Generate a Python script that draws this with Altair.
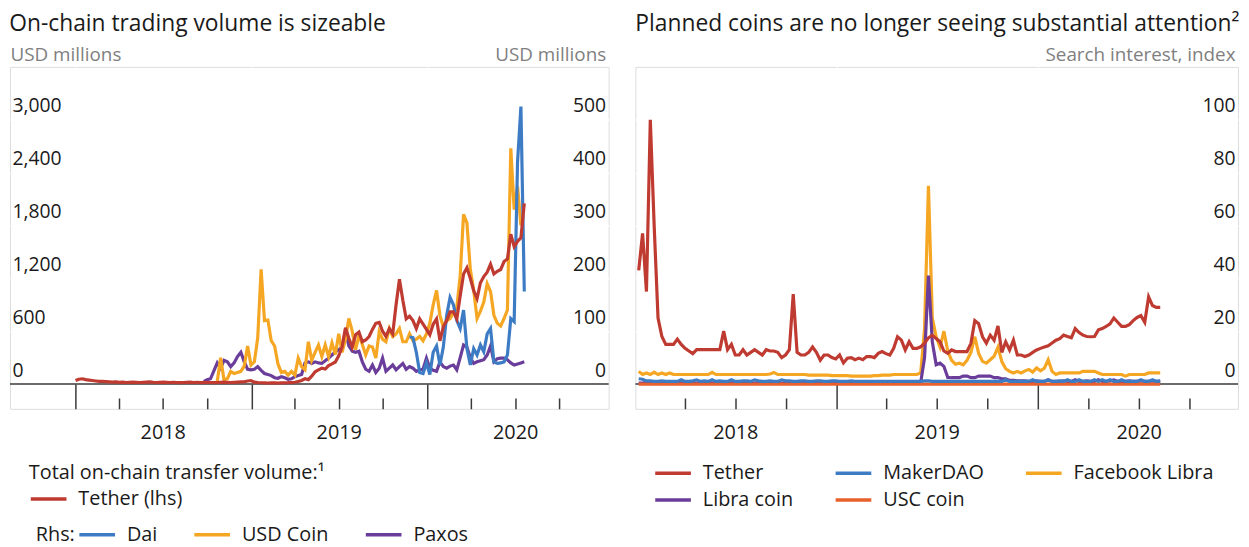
import altair as alt
import pandas as pd

FONT = "Open Sans"
TXT = "#1a1a1a"
GREY_TXT = "#808080"
BG = "#e0e0e0"
RED = "#bf3a30"
BLUE = "#3d7cc4"
ORANGE = "#f5a623"
PURPLE = "#6a3d9a"
ORANGE_RED = "#e8612c"

# ---------------- left panel: on-chain transfer volume (weekly, USD mn) ----------------
tether_volume_start = "2018-01-01"
tether_volume = [
    40, 55, 60, 50, 45, 40, 35, 30, 30,
    28, 25, 22, 24, 20, 22, 18, 20, 22, 20,
    18, 20, 22, 24, 20, 18, 20, 22, 20, 18,
    20, 18, 16, 18, 20, 22, 18, 20, 16, 18,
    20, 18, 16, 18, 20, 22, 20, 18, 20, 22,
    24, 26,
    35, 40, 22, 18, 15, 14, 12, 14, 15, 12, 14, 15, 16, 18,
    20, 30, 40, 60, 50, 90, 140, 160, 180, 170,
    210, 230, 250, 320, 420, 640, 520, 420, 560, 590,
    480, 500, 540, 620, 690, 700, 600, 540, 630, 570,
    900, 1190, 950, 740, 770, 720, 630, 740, 680, 620,
    560, 680, 740, 490, 650, 720, 820, 820, 740, 1000,
    1250, 1320, 1200, 1060, 970, 1150, 1220, 1270, 1360, 1250,
    1280, 1300, 1390, 1420, 1700, 1560, 1620, 1660, 2050,
]

paxos_start = "2018-09-24"
paxos = [
    5, 8, 10, 25, 40, 30, 45, 42, 33, 40,
    52, 60, 42, 28, 27, 28, 33, 26, 20, 18,
    16, 12, 11, 14, 12, 9, 10, 14, 16, 18,
    40, 42, 39, 42, 40, 39, 44, 49, 55, 61,
    65, 70, 100, 72, 62, 60, 62, 42, 28, 24,
    36, 22, 30, 49, 24, 30, 36, 27, 33, 39,
    28, 33, 30, 24, 27, 28, 49, 30, 26, 24,
    42, 33, 30, 34, 36, 27, 50, 74, 70, 50,
    39, 42, 44, 46, 55, 72, 42, 48, 49, 49,
    46, 40, 36, 38, 40, 42,
]

usd_coin_start = "2018-10-22"
usd_coin = [
    5, 50, 8, 10, 24, 20, 22, 24, 34, 72,
    36, 42, 88, 217, 120, 121, 82, 72, 38, 22,
    24, 17, 24, 17, 49, 33, 27, 80, 45, 60,
    74, 52, 74, 52, 78, 56, 95, 60, 85, 124,
    100, 65, 92, 75, 55, 72, 70, 49, 99, 85,
    80, 105, 90, 95, 105, 80, 80, 95, 82, 85,
    90, 82, 95, 115, 150, 177, 130, 108, 120, 124,
    135, 145, 205, 321, 305, 217, 178, 124, 138, 155,
    190, 175, 130, 115, 110, 124, 140, 446, 330, 374,
    300,
]

dai_start = "2019-11-25"
dai = [
    89, 88, 60, 22, 20, 40, 18, 60, 72, 36,
    70, 130, 164, 150, 120, 105, 140, 67, 36, 67,
    55, 74, 61, 95, 105, 42, 39, 40, 42, 55,
    124, 118, 420, 525, 175,
]

# ---------------- right panel: search interest (weekly, index) ----------------
search_start = "2018-01-07"
search_tether = [
    43, 57, 35, 100, 60, 25, 18, 15, 15, 15,
    17, 15, 13.5, 12.5, 11.5, 13, 13, 13, 13, 13,
    13, 13, 20, 13, 15, 11, 11, 13, 11, 12,
    13, 12, 11, 13, 12.5, 12.5, 12, 10, 11, 13,
    34, 12, 11, 11, 12, 14, 12, 9, 11, 11,
    10, 9.5, 11, 8, 9.8, 10, 9.2, 9.8, 9.2, 10.4,
    10.4, 10, 11.6, 12.3, 11.5, 11, 13.5, 17.9, 16.6, 12.9,
    16, 13.5, 13.5, 14.1, 15.5, 17.5, 18.5, 17.2, 16, 12.5,
    11.6, 12.9, 12.3, 12.3, 12.3, 12.3, 15.4, 24, 22.8, 17.9,
    15.5, 18.5, 16.6, 22, 12, 16, 12.9, 16.6, 11, 11,
    10.4, 11, 12, 12.9, 13.5, 14, 14.5, 15.5, 16.6, 17.2,
    18.5, 18, 17.5, 21, 19.5, 18.5, 18, 17.9, 18, 20.5,
    21, 21.8, 22.8, 25, 23.4, 21.8, 21.8, 22.5, 24, 25.2,
    25.9, 23.4, 33, 29.7, 29, 29,
]
search_makerdao = [
    2.0, 1.8, 1.2, 1.2, 1.0, 1.0, 1.2, 1.0, 1.0, 1.0,
    1.0, 1.6, 1.0, 1.0, 1.2, 1.6, 1.0, 1.2, 1.0, 1.6,
    1.0, 1.2, 1.0, 1.0, 1.6, 1.0, 1.0, 1.2, 1.2, 1.0,
    1.6, 1.2, 1.0, 1.0, 1.2, 1.0, 1.0, 1.6, 1.2, 1.2,
    1.0, 1.0, 1.2, 1.2, 1.0, 1.0, 1.2, 1.2, 1.0, 1.0,
    1.2, 1.2, 1.0, 1.0, 1.0, 1.2, 1.0, 1.0, 1.0, 1.0,
    1.0, 1.0, 1.0, 1.0, 1.0, 1.0, 1.0, 1.0, 1.0, 1.0,
    1.0, 1.0, 1.0, 1.0, 1.2, 1.2, 1.0, 1.0, 1.0, 1.0,
    1.0, 1.0, 1.0, 1.0, 1.0, 1.0, 1.0, 1.0, 1.0, 1.0,
    1.0, 1.0, 1.0, 1.0, 1.0, 1.6, 1.0, 1.0, 1.0, 1.0,
    1.0, 1.0, 1.6, 1.0, 1.0, 1.0, 1.6, 1.0, 1.0, 1.2,
    1.0, 1.6, 1.0, 1.0, 1.6, 1.0, 1.0, 1.0, 1.6, 1.0,
    1.6, 1.0, 1.6, 1.0, 1.0, 1.6, 1.0, 1.0, 1.0, 1.0,
    1.6, 1.0, 1.0, 1.6, 1.0, 1.2,
]
search_facebook_libra = [
    4.8, 3.6, 4.2, 3.6, 4.5, 3.6, 4.2, 3.6, 4.2, 3.6,
    3.6, 3.6, 3.6, 3.6, 3.6, 3.6, 3.6, 3.6, 3.6, 4.4,
    3.6, 3.6, 3.6, 3.6, 3.6, 3.6, 3.6, 3.6, 3.6, 3.6,
    3.6, 3.6, 3.6, 3.6, 3.8, 4.4, 3.6, 3.6, 3.6, 3.6,
    3.6, 3.6, 3.6, 3.6, 3.4, 3.4, 3.4, 3.4, 3.4, 3.4,
    3.2, 3.2, 3.2, 3.2, 3.2, 3.0, 3.0, 3.0, 3.0, 3.0,
    3.0, 3.2, 3.2, 3.4, 3.4, 3.4, 3.6, 3.6, 3.6, 3.6,
    3.6, 3.6, 3.6, 4.2, 21, 75, 25, 17.9, 14, 20,
    12.5, 9, 7.5, 7.9, 7.3, 9, 12, 17.9, 11.6, 8.6,
    7.9, 9.2, 10.5, 14, 8.5, 5.8, 4.8, 4.2, 4.8, 4.2,
    5.0, 5.5, 4.5, 6.1, 5.0, 6.0, 9.2, 4.8, 3.6, 4.2,
    4.2, 4.2, 4.2, 4.2, 4.2, 4.8, 4.8, 4.8, 4.8, 4.2,
    3.6, 3.6, 3.6, 3.6, 3.6, 3.6, 3.0, 3.6, 3.6, 3.6,
    3.6, 3.6, 4.2, 4.2, 4.2, 4.2,
]
search_libra_coin = [
    0.4, 0.4, 0.6, 0.4, 0.4, 0.4, 0.4, 0.4, 0.4, 0.4,
    0.4, 0.6, 0.4, 0.4, 0.4, 0.4, 0.4, 0.4, 0.6, 0.4,
    0.4, 0.4, 0.4, 0.4, 0.4, 0.6, 0.4, 0.4, 0.4, 0.4,
    0.4, 0.4, 0.4, 0.6, 0.4, 0.4, 0.4, 0.4, 0.4, 0.4,
    0.4, 0.4, 0.4, 0.4, 0.4, 0.4, 0.6, 0.4, 0.4, 0.4,
    0.4, 0.4, 0.4, 0.4, 0.4, 0.4, 0.4, 0.4, 0.4, 0.4,
    0.4, 0.4, 0.4, 0.4, 0.4, 0.4, 0.4, 0.4, 0.4, 0.4,
    0.4, 0.4, 0.4, 0.6, 10, 41, 16, 7.3, 7.9, 6.7,
    2.5, 2.4, 2.4, 2.4, 3.0, 3.0, 2.4, 2.4, 3.0, 3.0,
    3.0, 3.0, 2.4, 2.4, 2.0, 2.0, 1.4, 1.4, 1.2, 1.2,
    1.2, 1.0, 1.0, 1.2, 1.0, 1.0, 1.6, 1.0, 1.0, 1.0,
    1.2, 1.0, 1.0, 1.6, 1.0, 1.0, 1.2, 1.0, 1.0, 1.6,
    1.0, 1.0, 1.2, 1.6, 1.0, 1.0, 1.0, 1.2, 1.0, 1.0,
    1.2, 1.0, 1.0, 1.2, 1.0, 1.0,
]
search_usc_coin = [
    0, 0, 0, 0, 0, 0, 0, 0, 0, 0,
    0, 0, 0, 0, 0, 0, 0, 0, 0, 0,
    0, 0, 0, 0, 0, 0, 0, 0, 0, 0,
    0, 0, 0, 0, 0, 0, 0, 0, 0, 0,
    0, 0, 0, 0, 0, 0, 0, 0, 0, 0,
    0, 0, 0, 0, 0, 0, 0, 0, 0, 0,
    0, 0, 0, 0, 0, 0, 0, 0, 0, 0,
    0, 0, 0, 0, 0, 0, 0, 0, 0, 0,
    0, 0, 0, 0, 0, 0, 0, 0, 0, 0,
    0, 0, 0, 0, 0, 0, 0, 0, 0, 0,
    0, 0, 0, 0, 0, 0, 0, 0, 0, 0,
    0, 0, 0, 0, 0, 0, 0, 0, 0, 0,
    0, 0, 0, 0, 0, 0, 0, 0, 0, 0,
    0, 0, 0, 0, 0, 0,
]

left_y_ticks = [0, 600, 1200, 1800, 2400, 3000]
left_rhs_ticks = [0, 100, 200, 300, 400, 500]
right_y_ticks = [0, 20, 40, 60, 80, 100]
tick_years = [2018, 2019, 2020]
tick_months = [1, 4, 7, 10]


def weekly(start, values, name):
    return pd.DataFrame({
        "date": pd.date_range(start, periods=len(values), freq="7D"),
        "value": values,
        "series": name,
    })


tether_df = weekly(tether_volume_start, tether_volume, "Tether (lhs)")
rhs_df = pd.concat([
    weekly(paxos_start, paxos, "Paxos"),
    weekly(usd_coin_start, usd_coin, "USD Coin"),
    weekly(dai_start, dai, "Dai"),
], ignore_index=True)
search_df = pd.concat([
    weekly(search_start, search_facebook_libra, "Facebook Libra"),
    weekly(search_start, search_libra_coin, "Libra coin"),
    weekly(search_start, search_usc_coin, "USC coin"),
    weekly(search_start, search_makerdao, "MakerDAO"),
    weekly(search_start, search_tether, "Tether"),
], ignore_index=True)
zero_df = pd.DataFrame({"v": [0]})

# ---------------- layout constants ----------------
W_L, W_R, H = 604, 608, 345
LEFT_DOM = [-281.25, 3600]
LEFT_RHS_DOM = [-46.875, 600]
RIGHT_DOM = [-9.375, 120]
LX_DOM = [alt.DateTime(year=2017, month=8, date=18), alt.DateTime(year=2021, month=1, date=11)]
RX_DOM = [alt.DateTime(year=2018, month=1, date=1), alt.DateTime(year=2020, month=12, date=28)]
quarters_left = [alt.DateTime(year=y, month=m, date=1) for y in tick_years for m in tick_months]
quarters_right = quarters_left[1:]
MAJOR = "month(datum.value) == 0"
LW = 3.2


def x_axis(values):
    return alt.Axis(
        values=values, orient="bottom", offset=-25, tickSize=25, tickWidth=1.5,
        tickColor="#3a3a3a",
        tickDash={"condition": {"test": MAJOR, "value": []}, "value": [0, 14, 11]},
        domain=False, grid=True, gridColor="white", gridWidth=2,
        gridOpacity={"condition": {"test": MAJOR, "value": 1}, "value": 0},
        labelExpr="month(datum.value) == 6 ? timeFormat(datum.value, '%Y') : ''",
        labelPadding=14, labelFontSize=20, labelColor=TXT, labelFont=FONT,
        labelOverlap=False, labelFlush=False, title=None,
    )


def y_axis(orient, values, title, grid, fmt):
    left = orient == "left"
    return alt.Axis(
        orient=orient, values=values, format=fmt, ticks=False, domain=False,
        grid=grid, gridColor="white", gridWidth=2,
        gridOpacity={"condition": {"test": "datum.value == 0", "value": 0}, "value": 1},
        labelAlign="left" if left else "right", labelBaseline="bottom",
        labelPadding=-2 if left else -3, labelOffset=-4,
        labelFontSize=19.5, labelColor=TXT, labelFont=FONT,
        title=title, titleAngle=0, titleAlign="left" if left else "right",
        titleBaseline="bottom", titleX=0 if left else -3, titleY=-2,
        titleFontSize=19, titleFont=FONT, titleFontWeight="normal", titleColor=GREY_TXT,
    )


leg_common = dict(
    orient="none", symbolType="stroke", symbolSize=1296, symbolStrokeWidth=3.5,
    clipHeight=20, labelFontSize=20, labelFont=FONT, labelColor=TXT, labelOffset=10,
    titleFontSize=20, titleFont=FONT, titleFontWeight="normal", titleColor=TXT,
    padding=0, labelLimit=400, titleLimit=500,
)

# ---------------- left panel ----------------
left_zero = alt.Chart(zero_df).mark_rule(color="#3a3a3a", strokeWidth=1.5).encode(
    y=alt.Y("v:Q", scale=alt.Scale(domain=LEFT_DOM, nice=False), axis=None)
)
left_rhs = alt.Chart(rhs_df).mark_line(strokeWidth=LW).encode(
    x=alt.X("date:T", scale=alt.Scale(domain=LX_DOM, nice=False), axis=x_axis(quarters_left)),
    y=alt.Y("value:Q", scale=alt.Scale(domain=LEFT_RHS_DOM, nice=False),
            axis=y_axis("right", left_rhs_ticks, "USD millions", False, "d")),
    color=alt.Color("series:N",
                    scale=alt.Scale(domain=["Dai", "USD Coin", "Paxos"], range=[BLUE, ORANGE, PURPLE]),
                    legend=alt.Legend(title="Rhs:", titleOrient="left", direction="horizontal",
                                      columns=3, columnPadding=35, legendX=26, legendY=462,
                                      titlePadding=2, **leg_common)),
)
left_tether = alt.Chart(tether_df).mark_line(strokeWidth=LW).encode(
    x=alt.X("date:T", scale=alt.Scale(domain=LX_DOM, nice=False), axis=x_axis(quarters_left)),
    y=alt.Y("value:Q", scale=alt.Scale(domain=LEFT_DOM, nice=False),
            axis=y_axis("left", left_y_ticks, "USD millions", True, ",d")),
    color=alt.Color("series:N",
                    scale=alt.Scale(domain=["Tether (lhs)"], range=[RED]),
                    legend=alt.Legend(title="Total on-chain transfer volume:\u00b9",
                                      legendX=19, legendY=400, titlePadding=6, **leg_common)),
)
left = alt.layer(left_zero, left_rhs, left_tether).resolve_scale(
    y="independent", color="independent"
).properties(
    width=W_L, height=H,
    title=alt.TitleParams("On-chain trading volume is sizeable", anchor="start", fontSize=23,
                          font=FONT, fontWeight="normal", color=TXT, offset=10),
)

# ---------------- right panel ----------------
right_zero = alt.Chart(zero_df).mark_rule(color="#3a3a3a", strokeWidth=1.5).encode(
    y=alt.Y("v:Q", scale=alt.Scale(domain=RIGHT_DOM, nice=False), axis=None)
)
right_lines = alt.Chart(search_df).mark_line(strokeWidth=LW).encode(
    x=alt.X("date:T", scale=alt.Scale(domain=RX_DOM, nice=False), axis=x_axis(quarters_right)),
    y=alt.Y("value:Q", scale=alt.Scale(domain=RIGHT_DOM, nice=False),
            axis=y_axis("right", right_y_ticks, "Search interest, index", True, "d")),
    color=alt.Color("series:N",
                    scale=alt.Scale(domain=["Tether", "MakerDAO", "Facebook Libra", "Libra coin", "USC coin"],
                                    range=[RED, BLUE, ORANGE, PURPLE, ORANGE_RED]),
                    legend=alt.Legend(title=None, direction="horizontal", columns=3,
                                      columnPadding=40, rowPadding=7, legendX=649, legendY=400,
                                      **leg_common)),
)
right = alt.layer(right_zero, right_lines).resolve_scale(y="independent").properties(
    width=W_R, height=H,
    title=alt.TitleParams("Planned coins are no longer seeing substantial attention\u00b2",
                          anchor="start", fontSize=23, font=FONT, fontWeight="normal",
                          color=TXT, offset=10, dx=3),
)

chart = alt.hconcat(left, right, spacing=21).configure_view(
    fill=BG, stroke=None
).configure(font=FONT).properties(padding={"left": 0, "top": 2, "right": 0, "bottom": 0})

chart.save("out.html", embed_options={"renderer": "svg", "actions": False})
